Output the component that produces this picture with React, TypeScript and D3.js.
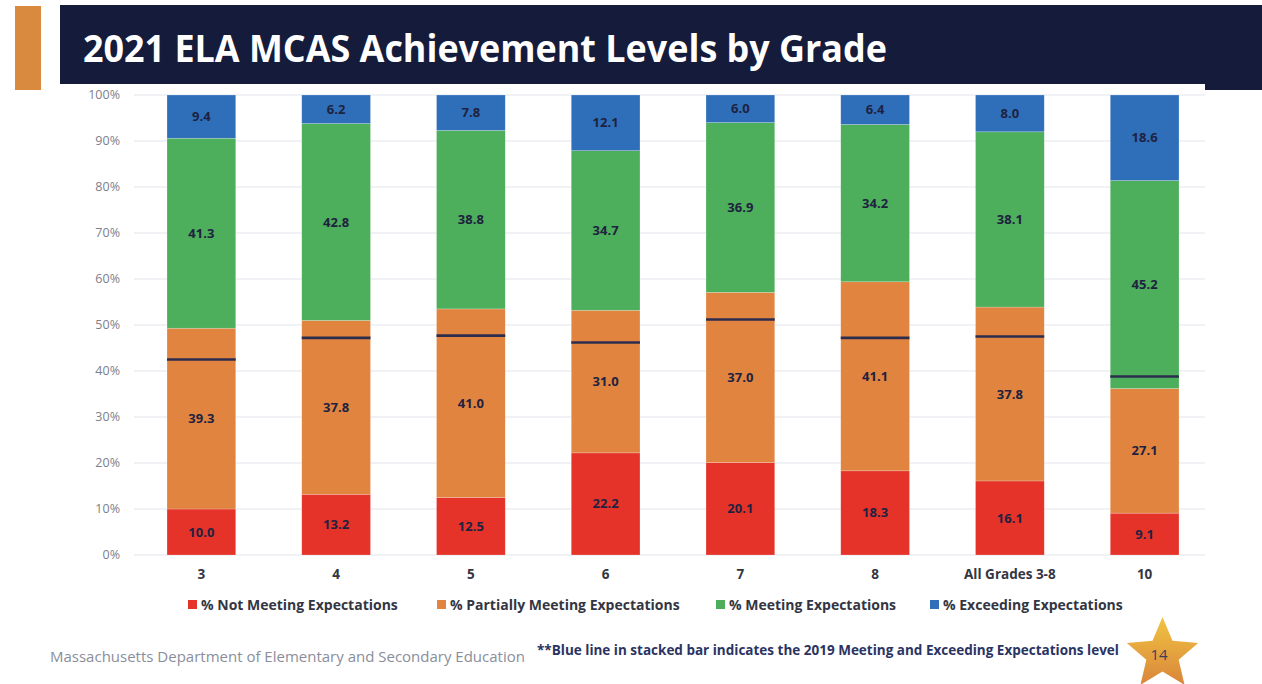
import React from 'react';
import * as d3 from 'd3';

const GRADES = ['3', '4', '5', '6', '7', '8', 'All Grades 3-8', '10'];
const NOT_MEETING = [10.0, 13.2, 12.5, 22.2, 20.1, 18.3, 16.1, 9.1];
const PARTIALLY = [39.3, 37.8, 41.0, 31.0, 37.0, 41.1, 37.8, 27.1];
const MEETING = [41.3, 42.8, 38.8, 34.7, 36.9, 34.2, 38.1, 45.2];
const EXCEEDING = [9.4, 6.2, 7.8, 12.1, 6.0, 6.4, 8.0, 18.6];
// 2019 meeting + exceeding level (line drawn at 100 - value)
const ME_2019 = [57.5, 52.8, 52.3, 53.8, 48.8, 52.8, 52.5, 61.2];

const SERIES = ['% Not Meeting Expectations', '% Partially Meeting Expectations', '% Meeting Expectations', '% Exceeding Expectations'];
const COLORS = ['#e5332a', '#e0843f', '#4dae5b', '#2f6fba'];
const Y_TICKS = [0, 10, 20, 30, 40, 50, 60, 70, 80, 90, 100];

const TITLE = '2021 ELA MCAS Achievement Levels by Grade';
const FOOTER = 'Massachusetts Department of Elementary and Secondary Education';
const NOTE = '**Blue line in stacked bar indicates the 2019 Meeting and Exceeding Expectations level';
const PAGE = '14';

const W = 1262;
const H = 684;
const FONT = '"Open Sans", "Noto Sans", sans-serif';

export default function App() {
  const rows = GRADES.map((g, i) => ({
    grade: g,
    s0: NOT_MEETING[i], s1: PARTIALLY[i], s2: MEETING[i], s3: EXCEEDING[i],
  }));
  const stack = d3.stack<any>().keys(['s0', 's1', 's2', 's3'])(rows);

  const x = d3.scaleBand().domain(GRADES).range([134, 1212]).paddingInner(0.49).paddingOuter(0.245);
  const y = d3.scaleLinear().domain([0, 100]).range([555, 95]);
  const bw = x.bandwidth();

  // star
  const starCx = 1162.5, starCy = 654.5, R = 37.5, r = 17;
  const starPts = d3.range(10).map(k => {
    const a = -Math.PI / 2 + k * Math.PI / 5;
    const rad = k % 2 === 0 ? R : r;
    return [starCx + rad * Math.cos(a), starCy + rad * Math.sin(a)] as [number, number];
  });
  const starPath = d3.line()(starPts) + 'Z';

  const legendX = [188, 437, 716, 930];

  return (
    <>
      <style>{`body{margin:0;background:#fff}`}</style>
      <svg width={W} height={H} style={{ display: 'block', fontFamily: FONT }}>
        <defs>
          <linearGradient id="starGrad" x1="0" y1="0" x2="0" y2="1">
            <stop offset="0%" stopColor="#f1c443" />
            <stop offset="100%" stopColor="#d9853a" />
          </linearGradient>
        </defs>

        {/* header */}
        <rect x={15} y={6} width={26} height={84} fill="#d98a3e" />
        <rect x={60} y={5} width={W - 60} height={79} fill="#141b3b" />
        <rect x={1205} y={84} width={W - 1205} height={6} fill="#141b3b" />
        <text x={83} y={62} fill="#fff" fontSize={37} fontWeight={700} textLength={804} lengthAdjust="spacingAndGlyphs">{TITLE}</text>

        {/* grid + y axis */}
        {Y_TICKS.map(t => (
          <g key={t}>
            <line x1={134} x2={1205} y1={y(t)} y2={y(t)} stroke="#e2e5eb" strokeWidth={1} />
            <text x={120} y={y(t)} dy="0.35em" textAnchor="end" fill="#7c808c" fontSize={12.5}>{t}%</text>
          </g>
        ))}

        {/* bars */}
        {stack.map((layer, si) => (
          <g key={si}>
            {layer.map((d, i) => (
              <g key={i}>
                <rect x={x(GRADES[i])} width={bw} y={y(Math.min(d[1], 100))} height={y(d[0]) - y(Math.min(d[1], 100))}
                  fill={COLORS[si]} stroke="#fff" strokeOpacity={0.35} strokeWidth={0.6} />
                <text x={x(GRADES[i])! + bw / 2} y={(y(d[0]) + y(Math.min(d[1], 100))) / 2} dy="0.35em"
                  textAnchor="middle" fill="#1e2240" fontSize={13} fontWeight={700}>
                  {(d[1] - d[0]).toFixed(1)}
                </text>
              </g>
            ))}
          </g>
        ))}

        {/* 2019 lines */}
        {ME_2019.map((v, i) => (
          <line key={i} x1={x(GRADES[i])} x2={x(GRADES[i])! + bw} y1={y(100 - v)} y2={y(100 - v)}
            stroke="#2c2c4e" strokeWidth={2.6} />
        ))}

        {/* x labels */}
        {GRADES.map(g => (
          <text key={g} x={x(g)! + bw / 2} y={574} dy="0.35em" textAnchor="middle" fill="#333642" fontSize={13.5} fontWeight={700}>{g}</text>
        ))}

        {/* legend */}
        {SERIES.map((s, i) => (
          <g key={s}>
            <rect x={legendX[i]} y={600} width={9} height={9} fill={COLORS[i]} />
            <text x={legendX[i] + 13} y={605} dy="0.35em" fill="#333642" fontSize={14} fontWeight={700}>{s}</text>
          </g>
        ))}

        {/* footer */}
        <text x={50} y={657} dy="0.35em" fill="#8a8e9c" fontSize={15}>{FOOTER}</text>
        <text x={537} y={650} dy="0.35em" fill="#2a3463" fontSize={13.5} fontWeight={700}>{NOTE}</text>

        <path d={starPath} fill="url(#starGrad)" />
        <text x={1159} y={655} dy="0.35em" textAnchor="middle" fill="#3b3f5a" fontSize={15}>{PAGE}</text>
      </svg>
    </>
  );
}
